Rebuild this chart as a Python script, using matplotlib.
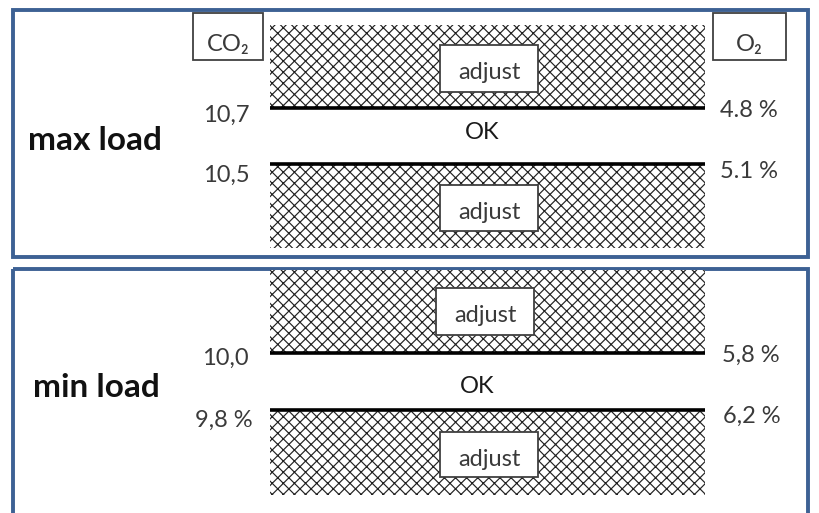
import matplotlib
matplotlib.use("Agg")
import matplotlib.pyplot as plt
from matplotlib.patches import Rectangle

# chart content
LOADS = ["max load", "min load"]
CO2_UPPER = ["10,7", "10,0"]
CO2_LOWER = ["10,5", "9,8 %"]
O2_UPPER = ["4.8 %", "5,8 %"]
O2_LOWER = ["5.1 %", "6,2 %"]
ZONE_LABEL = "adjust"
MID_LABEL = "OK"
GASES = ["CO₂", "O₂"]

# layout in pixels (y down)
PANELS = [
    dict(top=10, bottom=257, htop=25, l1=108, l2=164, hbot=248,
         up_box=(440, 45, 98, 47), lo_box=(440, 185, 98, 46),
         load_xy=(28, 150), ok_xy=(482, 139),
         co2_base=(122, 182), o2_base=(117, 178)),
    dict(top=269, bottom=530, htop=270, l1=353, l2=410, hbot=495,
         up_box=(436, 288, 98, 47), lo_box=(440, 432, 98, 45),
         load_xy=(33, 397), ok_xy=(477, 393),
         co2_base=(365, 427), o2_base=(362, 423)),
]
X0, X1 = 270, 705
CO2_RIGHT = [(250, 250), (249, 253)]
O2_LEFT = [(720, 720), (722, 723)]
GAS_BOXES = [(193, 70), (713, 73)]
BORDER = "#3D6194"
TEXT = "#3A3A3A"
FS = 17

plt.rcParams['hatch.linewidth'] = 0.85
plt.rcParams['font.family'] = ['Lato', 'DejaVu Sans']

fig = plt.figure(figsize=(8.19, 5.13), dpi=100)
ax = fig.add_axes([0, 0, 1, 1])
ax.set_xlim(0, 819)
ax.set_ylim(513, 0)
ax.axis('off')

for i, p in enumerate(PANELS):
    # panel frame
    ax.add_patch(Rectangle((13, p['top']), 795, p['bottom'] - p['top'], fill=False,
                           edgecolor=BORDER, linewidth=2.8, zorder=1))
    # hatched "adjust" zones
    for y0, y1 in [(p['htop'], p['l1']), (p['l2'], p['hbot'])]:
        ax.add_patch(Rectangle((X0, y0), X1 - X0, y1 - y0, facecolor='white',
                               edgecolor='#222222', hatch='xxx', linewidth=0, zorder=2))
    # limit lines
    for y in (p['l1'], p['l2']):
        ax.plot([X0, X1], [y, y], color='black', linewidth=2.6, solid_capstyle='butt', zorder=3)
    # adjust boxes
    for bx, by, bw, bh in (p['up_box'], p['lo_box']):
        ax.add_patch(Rectangle((bx, by), bw, bh, facecolor='white', edgecolor='#404040',
                               linewidth=1.3, zorder=4))
        ax.text(bx + bw / 2, by + 34, ZONE_LABEL, ha='center', va='baseline',
                fontsize=FS, color=TEXT, zorder=5)
    # OK label
    ax.text(p['ok_xy'][0], p['ok_xy'][1], MID_LABEL, ha='center', va='baseline',
            fontsize=FS, color='#1a1a1a', zorder=5)
    # limit values
    ax.text(CO2_RIGHT[i][0], p['co2_base'][0], CO2_UPPER[i], ha='right', va='baseline', fontsize=FS, color=TEXT)
    ax.text(CO2_RIGHT[i][1], p['co2_base'][1], CO2_LOWER[i], ha='right', va='baseline', fontsize=FS, color=TEXT)
    ax.text(O2_LEFT[i][0], p['o2_base'][0], O2_UPPER[i], ha='left', va='baseline', fontsize=FS, color=TEXT)
    ax.text(O2_LEFT[i][1], p['o2_base'][1], O2_LOWER[i], ha='left', va='baseline', fontsize=FS, color=TEXT)
    # load label
    ax.text(p['load_xy'][0], p['load_xy'][1], LOADS[i], ha='left', va='baseline', fontsize=24,
            fontweight='bold', color='#111111')

# gas header boxes
for (x, w), label in zip(GAS_BOXES, GASES):
    ax.add_patch(Rectangle((x, 13), w, 47, facecolor='white', edgecolor='#404040', linewidth=1.3, zorder=4))
    ax.text(x + w / 2, 51, label, ha='center', va='baseline', fontsize=FS, color=TEXT, zorder=5)

fig.savefig("out.png", dpi=100)
